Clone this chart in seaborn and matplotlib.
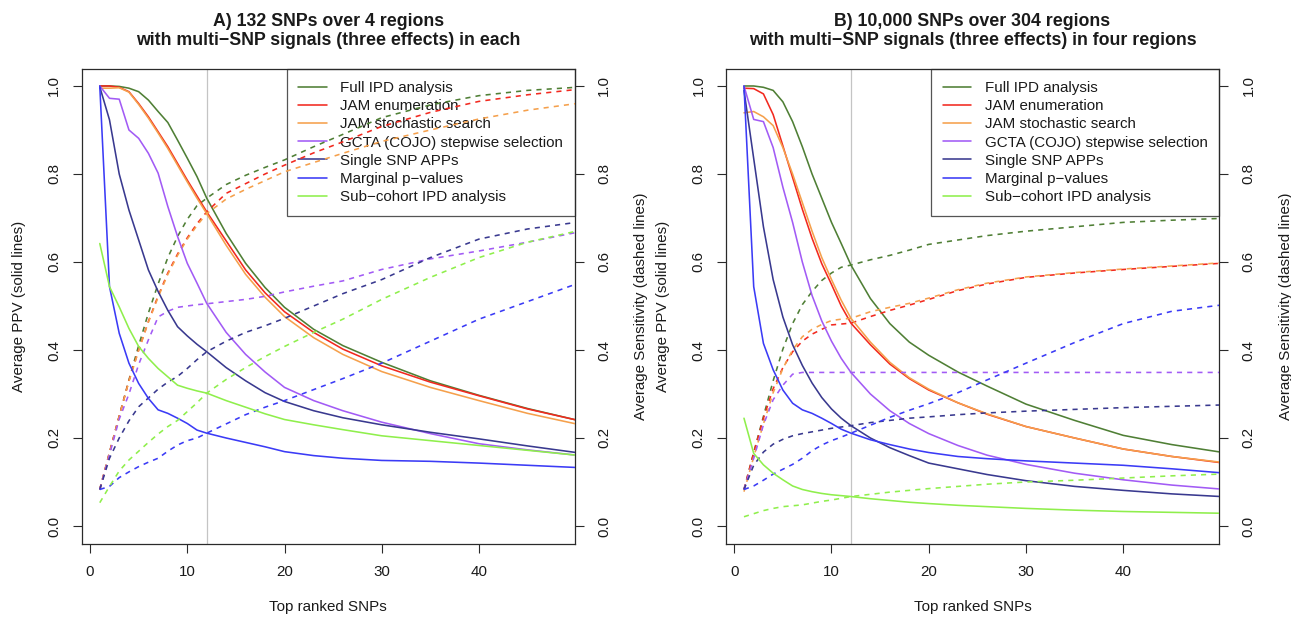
import numpy as np
import pandas as pd
import matplotlib
matplotlib.use("Agg")
import matplotlib.pyplot as plt
import seaborn as sns
from matplotlib.lines import Line2D

# ---------------- data ----------------
RANKS = [1, 2, 3, 4, 5, 6, 7, 8, 9, 10, 11, 12, 14, 16, 18, 20, 23, 26, 30, 35, 40, 45, 50]

METHODS = ["Full IPD analysis", "JAM enumeration", "JAM stochastic search",
           "GCTA (COJO) stepwise selection", "Single SNP APPs",
           "Marginal p\u2212values", "Sub\u2212cohort IPD analysis"]
COLORS = ["#4f7f35", "#f2291f", "#f5a04c", "#a25bf5", "#39398f", "#3b3bf6", "#8fef4c"]

TITLE_A = ["A) 132 SNPs over 4 regions",
           "with multi\u2212SNP signals (three effects) in each"]
TITLE_B = ["B) 10,000 SNPs over 304 regions",
           "with multi\u2212SNP signals (three effects) in four regions"]
XLABEL = "Top ranked SNPs"
YLABEL_L = "Average PPV (solid lines)"
YLABEL_R = "Average Sensitivity (dashed lines)"
XTICKS = [0, 10, 20, 30, 40]
YTICKS = [0.0, 0.2, 0.4, 0.6, 0.8, 1.0]
CUTOFF = 12

# Panel A : PPV (solid)
A_PPV_FULL = [1.0, 1.0, 0.999, 0.995, 0.987, 0.968, 0.942, 0.917, 0.877, 0.836, 0.794, 0.745, 0.665, 0.597, 0.542, 0.497, 0.447, 0.41, 0.372, 0.33, 0.297, 0.267, 0.241]
A_PPV_ENUM = [1.0, 1.0, 0.997, 0.987, 0.96, 0.93, 0.896, 0.862, 0.824, 0.786, 0.75, 0.714, 0.648, 0.582, 0.53, 0.487, 0.44, 0.402, 0.364, 0.327, 0.296, 0.266, 0.241]
A_PPV_STOCH = [0.995, 0.995, 0.996, 0.986, 0.958, 0.927, 0.893, 0.858, 0.82, 0.782, 0.745, 0.71, 0.638, 0.572, 0.52, 0.476, 0.428, 0.39, 0.351, 0.315, 0.285, 0.256, 0.232]
A_PPV_GCTA = [1.0, 0.972, 0.97, 0.9, 0.881, 0.847, 0.802, 0.726, 0.658, 0.597, 0.552, 0.506, 0.44, 0.39, 0.35, 0.315, 0.285, 0.262, 0.236, 0.21, 0.187, 0.173, 0.161]
A_PPV_SINGLE = [0.998, 0.923, 0.8, 0.718, 0.65, 0.582, 0.533, 0.49, 0.453, 0.432, 0.413, 0.396, 0.36, 0.33, 0.303, 0.283, 0.262, 0.246, 0.23, 0.213, 0.198, 0.182, 0.167]
A_PPV_MARG = [1.0, 0.544, 0.438, 0.37, 0.324, 0.29, 0.264, 0.256, 0.245, 0.233, 0.218, 0.211, 0.2, 0.19, 0.18, 0.169, 0.16, 0.154, 0.149, 0.147, 0.143, 0.138, 0.133]
A_PPV_SUB = [0.642, 0.544, 0.498, 0.449, 0.408, 0.381, 0.358, 0.339, 0.32, 0.313, 0.307, 0.302, 0.285, 0.27, 0.255, 0.242, 0.23, 0.219, 0.205, 0.194, 0.183, 0.172, 0.161]

# Panel A : sensitivity (dashed)
A_SEN_FULL = [0.083, 0.167, 0.25, 0.332, 0.41, 0.484, 0.55, 0.61, 0.658, 0.697, 0.728, 0.745, 0.776, 0.797, 0.815, 0.832, 0.862, 0.89, 0.928, 0.957, 0.978, 0.99, 0.997]
A_SEN_ENUM = [0.083, 0.167, 0.25, 0.33, 0.4, 0.465, 0.523, 0.575, 0.618, 0.655, 0.687, 0.714, 0.756, 0.778, 0.8, 0.82, 0.848, 0.873, 0.908, 0.94, 0.965, 0.98, 0.992]
A_SEN_STOCH = [0.083, 0.166, 0.249, 0.329, 0.399, 0.463, 0.52, 0.572, 0.615, 0.652, 0.683, 0.71, 0.743, 0.765, 0.785, 0.805, 0.826, 0.847, 0.874, 0.9, 0.925, 0.945, 0.96]
A_SEN_GCTA = [0.083, 0.162, 0.243, 0.3, 0.367, 0.423, 0.475, 0.488, 0.497, 0.5, 0.503, 0.505, 0.51, 0.515, 0.522, 0.532, 0.545, 0.557, 0.583, 0.607, 0.625, 0.645, 0.667]
A_SEN_SINGLE = [0.083, 0.154, 0.2, 0.239, 0.271, 0.291, 0.311, 0.327, 0.34, 0.358, 0.378, 0.396, 0.42, 0.44, 0.455, 0.472, 0.5, 0.528, 0.56, 0.61, 0.652, 0.675, 0.69]
A_SEN_MARG = [0.083, 0.09, 0.11, 0.123, 0.135, 0.145, 0.154, 0.17, 0.184, 0.194, 0.2, 0.211, 0.232, 0.253, 0.27, 0.285, 0.31, 0.335, 0.37, 0.42, 0.47, 0.51, 0.55]
A_SEN_SUB = [0.053, 0.09, 0.125, 0.15, 0.17, 0.19, 0.209, 0.226, 0.24, 0.26, 0.28, 0.302, 0.333, 0.36, 0.385, 0.408, 0.44, 0.47, 0.515, 0.565, 0.61, 0.645, 0.67]

# Panel B : PPV (solid)
B_PPV_FULL = [1.0, 1.0, 0.997, 0.99, 0.964, 0.919, 0.862, 0.8, 0.745, 0.69, 0.642, 0.593, 0.517, 0.46, 0.418, 0.388, 0.35, 0.318, 0.277, 0.24, 0.206, 0.185, 0.168]
B_PPV_ENUM = [0.995, 0.994, 0.982, 0.935, 0.864, 0.792, 0.72, 0.654, 0.596, 0.549, 0.5, 0.461, 0.412, 0.368, 0.335, 0.309, 0.28, 0.254, 0.226, 0.2, 0.175, 0.158, 0.144]
B_PPV_STOCH = [0.939, 0.942, 0.93, 0.91, 0.86, 0.8, 0.735, 0.67, 0.61, 0.56, 0.513, 0.472, 0.418, 0.372, 0.337, 0.311, 0.28, 0.255, 0.226, 0.2, 0.175, 0.158, 0.145]
B_PPV_GCTA = [1.0, 0.924, 0.919, 0.86, 0.77, 0.69, 0.6, 0.524, 0.466, 0.42, 0.381, 0.349, 0.3, 0.262, 0.233, 0.21, 0.183, 0.161, 0.14, 0.12, 0.105, 0.093, 0.084]
B_PPV_SINGLE = [0.99, 0.835, 0.68, 0.56, 0.475, 0.412, 0.365, 0.325, 0.292, 0.266, 0.245, 0.228, 0.2, 0.178, 0.16, 0.143, 0.13, 0.117, 0.103, 0.09, 0.081, 0.073, 0.067]
B_PPV_MARG = [1.0, 0.544, 0.415, 0.355, 0.309, 0.279, 0.264, 0.256, 0.245, 0.233, 0.22, 0.211, 0.196, 0.185, 0.175, 0.167, 0.158, 0.153, 0.148, 0.143, 0.138, 0.13, 0.121]
B_PPV_SUB = [0.245, 0.165, 0.139, 0.12, 0.105, 0.091, 0.083, 0.078, 0.074, 0.071, 0.069, 0.067, 0.062, 0.058, 0.054, 0.051, 0.047, 0.044, 0.04, 0.036, 0.033, 0.031, 0.029]

# Panel B : sensitivity (dashed)
B_SEN_FULL = [0.083, 0.167, 0.249, 0.33, 0.402, 0.46, 0.503, 0.533, 0.558, 0.575, 0.588, 0.593, 0.605, 0.615, 0.627, 0.64, 0.65, 0.66, 0.67, 0.68, 0.69, 0.695, 0.699]
B_SEN_ENUM = [0.083, 0.166, 0.245, 0.312, 0.36, 0.396, 0.42, 0.436, 0.447, 0.457, 0.459, 0.461, 0.476, 0.49, 0.502, 0.515, 0.535, 0.55, 0.565, 0.575, 0.583, 0.59, 0.597]
B_SEN_STOCH = [0.078, 0.157, 0.232, 0.303, 0.358, 0.4, 0.43, 0.447, 0.458, 0.467, 0.47, 0.472, 0.487, 0.497, 0.506, 0.518, 0.537, 0.552, 0.566, 0.576, 0.584, 0.591, 0.598]
B_SEN_GCTA = [0.083, 0.154, 0.23, 0.287, 0.32, 0.345, 0.349, 0.349, 0.349, 0.349, 0.349, 0.349, 0.349, 0.349, 0.349, 0.349, 0.349, 0.349, 0.349, 0.349, 0.349, 0.349, 0.349]
B_SEN_SINGLE = [0.083, 0.138, 0.168, 0.186, 0.197, 0.205, 0.21, 0.214, 0.218, 0.222, 0.225, 0.228, 0.235, 0.24, 0.245, 0.248, 0.253, 0.257, 0.261, 0.265, 0.269, 0.272, 0.275]
B_SEN_MARG = [0.083, 0.091, 0.104, 0.118, 0.129, 0.14, 0.154, 0.171, 0.184, 0.194, 0.202, 0.211, 0.229, 0.247, 0.263, 0.278, 0.303, 0.332, 0.37, 0.417, 0.46, 0.488, 0.502]
B_SEN_SUB = [0.021, 0.028, 0.035, 0.04, 0.044, 0.046, 0.048, 0.052, 0.056, 0.059, 0.063, 0.067, 0.072, 0.077, 0.081, 0.085, 0.09, 0.095, 0.1, 0.104, 0.109, 0.114, 0.118]

# ---------------- figure ----------------
sns.set_theme(style="white")
plt.rcParams["font.family"] = ["Liberation Sans", "DejaVu Sans"]
plt.rcParams["axes.unicode_minus"] = True

W, H = 1291, 617
fig = plt.figure(figsize=(W / 100, H / 100), dpi=100)
fig.patch.set_facecolor("white")

FS = 10.9
TFS = 12.8
INK = "#1a1a1a"
LW = 1.15


def frac_x(px):
    return px / W


def frac_y(py):
    return 1 - py / H


def long_frame(ppv_lists, sen_lists):
    rows = []
    for m, ppv, sen in zip(METHODS, ppv_lists, sen_lists):
        for r, v in zip(RANKS, ppv):
            rows.append((r, v, m, "PPV"))
        for r, v in zip(RANKS, sen):
            rows.append((r, v, m, "Sensitivity"))
    return pd.DataFrame(rows, columns=["rank", "value", "method", "measure"])


panels = [
    dict(left=81.5, right=575.0, title=TITLE_A,
         ppv=[A_PPV_FULL, A_PPV_ENUM, A_PPV_STOCH, A_PPV_GCTA, A_PPV_SINGLE, A_PPV_MARG, A_PPV_SUB],
         sen=[A_SEN_FULL, A_SEN_ENUM, A_SEN_STOCH, A_SEN_GCTA, A_SEN_SINGLE, A_SEN_MARG, A_SEN_SUB]),
    dict(left=725.7, right=1219.3, title=TITLE_B,
         ppv=[B_PPV_FULL, B_PPV_ENUM, B_PPV_STOCH, B_PPV_GCTA, B_PPV_SINGLE, B_PPV_MARG, B_PPV_SUB],
         sen=[B_SEN_FULL, B_SEN_ENUM, B_SEN_STOCH, B_SEN_GCTA, B_SEN_SINGLE, B_SEN_MARG, B_SEN_SUB]),
]

TOP, BOTTOM = 69.0, 544.0
palette = dict(zip(METHODS, COLORS))

for p in panels:
    ax = fig.add_axes([frac_x(p["left"]), frac_y(BOTTOM),
                       (p["right"] - p["left"]) / W, (BOTTOM - TOP) / H])
    ax.set_facecolor("white")
    df = long_frame(p["ppv"], p["sen"])

    ax.axvline(CUTOFF, color="#c4c4c4", lw=0.9, zorder=1)

    sns.lineplot(data=df, x="rank", y="value", hue="method", style="measure",
                 hue_order=METHODS, style_order=["PPV", "Sensitivity"],
                 palette=palette, dashes={"PPV": "", "Sensitivity": (3.2, 3.2)},
                 estimator=None, legend=False, lw=LW, ax=ax, zorder=3)

    ax.set_xlim(-0.88, 49.88)
    ax.set_ylim(-0.0409, 1.0386)
    ax.set_xticks(XTICKS)
    ax.set_xticklabels([str(t) for t in XTICKS])
    ax.set_yticks(YTICKS)
    ax.set_yticklabels([f"{t:.1f}" for t in YTICKS], rotation=90, va="center")
    ax.set_xlabel("")
    ax.set_ylabel("")
    ax.grid(False)
    for s in ax.spines.values():
        s.set_visible(True)
        s.set_color("#2a2a2a")
        s.set_linewidth(0.9)
    ax.tick_params(axis="both", which="major", direction="out", length=6.5,
                   width=0.8, color="#2a2a2a", labelsize=FS, labelcolor=INK,
                   bottom=True, left=True)
    ax.tick_params(axis="x", pad=8.5)
    ax.tick_params(axis="y", pad=8)

    # right-hand axis with the same scale (sensitivity)
    ax2 = ax.twinx()
    ax2.set_ylim(ax.get_ylim())
    ax2.set_yticks(YTICKS)
    ax2.set_yticklabels([f"{t:.1f}" for t in YTICKS], rotation=90, va="center")
    ax2.grid(False)
    for s in ax2.spines.values():
        s.set_visible(False)
    ax2.tick_params(axis="y", direction="out", length=6.5, width=0.8,
                    color="#2a2a2a", labelsize=FS, labelcolor=INK, pad=9.5, right=True)

    handles = [Line2D([0], [0], color=c, lw=LW) for c in COLORS]
    leg = ax.legend(handles, METHODS, loc="upper right", borderaxespad=0,
                    fontsize=FS, frameon=True, fancybox=False, framealpha=None,
                    facecolor="none", edgecolor="#2a2a2a", handlelength=1.87,
                    handletextpad=0.9, labelspacing=0.28, borderpad=0.78)
    leg.get_frame().set_linewidth(0.9)
    leg.set_zorder(2)
    for t in leg.get_texts():
        t.set_color(INK)

    cx = (p["left"] + p["right"]) / 2
    fig.text(frac_x(cx), frac_y(26.5), p["title"][0], ha="center", va="baseline",
             fontsize=TFS, fontweight="bold", color=INK)
    fig.text(frac_x(cx), frac_y(45.0), p["title"][1], ha="center", va="baseline",
             fontsize=TFS, fontweight="bold", color=INK)
    fig.text(frac_x(cx), frac_y(607.5), XLABEL, ha="center", va="center",
             fontsize=FS, color=INK)
    cy = (TOP + BOTTOM) / 2
    fig.text(frac_x(p["left"] - 62.5), frac_y(cy), YLABEL_L, rotation=90,
             ha="center", va="center", fontsize=FS, color=INK)
    fig.text(frac_x(p["right"] + 66.5), frac_y(cy), YLABEL_R, rotation=90,
             ha="center", va="center", fontsize=FS, color=INK)

fig.savefig("out.png", dpi=100, facecolor="white")
